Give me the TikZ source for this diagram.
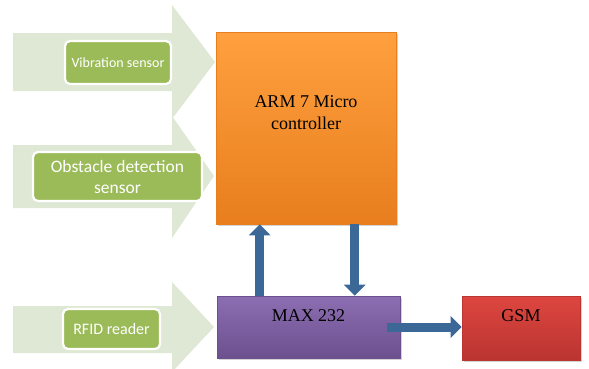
\documentclass[tikz,border=0pt]{standalone}
\usepackage{fontspec}
\setmainfont{Liberation Serif}
\newfontfamily\boxfont{Liberation Serif}
\newfontfamily\labelfont{Carlito}
\usetikzlibrary{arrows.meta, shadows}
\definecolor{arrowgreen}{RGB}{222, 232, 212}
\definecolor{labelgreen}{RGB}{155, 187, 89}
\definecolor{armtop}{RGB}{255, 160, 62}
\definecolor{armbottom}{RGB}{232, 126, 30}
\definecolor{maxtop}{RGB}{140, 110, 178}
\definecolor{maxbottom}{RGB}{108, 80, 142}
\definecolor{gsmtop}{RGB}{222, 70, 64}
\definecolor{gsmbottom}{RGB}{186, 52, 48}
\definecolor{busblue}{RGB}{60, 104, 152}

\begin{document}
\begin{tikzpicture}[
    x=1pt, y=-1pt,
    sensor/.style={rectangle, draw=white, line width=2.2pt, fill=labelgreen,
                   rounded corners=5pt, text=white, align=center, inner sep=2pt},
    block/.style={rectangle, line width=0.6pt,
                  drop shadow={opacity=0.35, shadow xshift=1.5pt, shadow yshift=-2pt}},
    blocktext/.style={font=\boxfont\fontsize{18}{22}\selectfont, align=center},
    bus/.style={line width=9pt, draw=busblue, -{Triangle[width=21pt, length=11pt]}}
]
\useasboundingbox (0,0) rectangle (589,368);

% Input arrows
\fill[arrowgreen] (13,33) -- (172,33) -- (172,5) -- (215,62) -- (172,119) -- (172,91) -- (13,91) -- cycle;
\fill[arrowgreen] (13,145) -- (172,145) -- (172,116) -- (214,176) -- (172,238) -- (172,208) -- (13,208) -- cycle;
\fill[arrowgreen] (13,306) -- (172,306) -- (172,282) -- (214,327) -- (172,372) -- (172,353) -- (13,353) -- cycle;

% Sensors
\node[sensor, minimum width=106pt, minimum height=43pt, font=\labelfont\fontsize{14}{17}\selectfont]
    (vibration) at (118,62.5) {Vibration sensor};
\node[sensor, minimum width=169pt, minimum height=49pt, font=\labelfont\fontsize{17.5}{21}\selectfont]
    (obstacle) at (117.5,176.5) {Obstacle detection\\sensor};
\node[sensor, minimum width=97pt, minimum height=40pt, font=\labelfont\fontsize{16}{19}\selectfont]
    (rfid) at (111.5,329) {RFID reader};

% Controller and interfaces
\node[block, draw=armbottom, top color=armtop, bottom color=armbottom,
      minimum width=180pt, minimum height=192pt] (arm) at (306,128) {};
\node[blocktext] (armtext) at ([yshift=15pt]arm.center) {ARM 7 Micro\\controller};

\node[block, draw=maxbottom, top color=maxtop, bottom color=maxbottom,
      minimum width=183pt, minimum height=62pt] (max) at (308.5,327) {};
\node[blocktext] (maxtext) at ([yshift=11pt]max.center) {MAX 232};

\node[block, draw=gsmbottom, top color=gsmtop, bottom color=gsmbottom,
      minimum width=118pt, minimum height=64pt] (gsm) at (521,328) {};
\node[blocktext] (gsmtext) at ([yshift=12pt]gsm.center) {GSM};

% Connections
\draw[bus] ([xshift=43pt]max.north west) -- ([xshift=43pt]max.north west |- arm.south);
\draw[bus] ([xshift=139pt]arm.south west) -- ([xshift=139pt]arm.south west |- max.north);
\draw[bus] ([xshift=-13pt]max.east) -- (max.east -| gsm.west);

\end{tikzpicture}
\end{document}
